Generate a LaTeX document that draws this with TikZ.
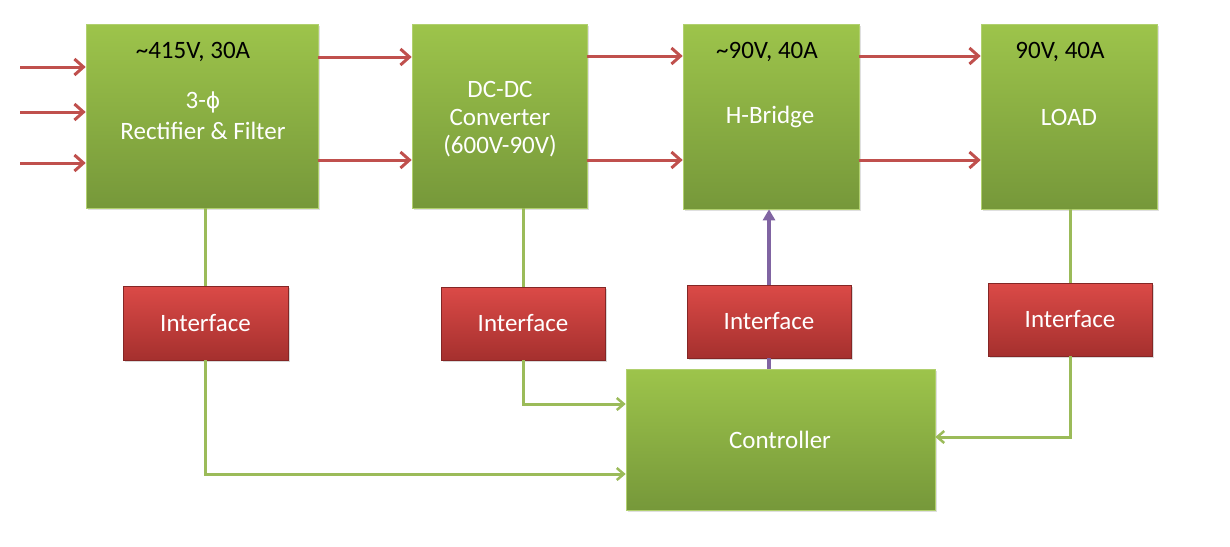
\documentclass[tikz,border=0pt]{standalone}
\usepackage{fontspec}
\setmainfont{Carlito}
\newfontfamily\phifont{DejaVu Sans}
\usetikzlibrary{arrows.meta,shadows}
\definecolor{gtop}{HTML}{9DC44B}
\definecolor{gbot}{HTML}{76983A}
\definecolor{rtop}{HTML}{DB4A47}
\definecolor{rbot}{HTML}{A5302E}
\definecolor{redline}{HTML}{C0504D}
\definecolor{greenline}{HTML}{9BBB59}
\definecolor{purpleline}{HTML}{8064A2}
\tikzset{
  gbox/.style={draw=gtop!80!white, line width=0.6pt, top color=gtop, bottom color=gbot, inner sep=0pt,
    drop shadow={opacity=0.25, shadow xshift=2pt, shadow yshift=-2pt}},
  rbox/.style={draw=rbot!80!black, line width=0.6pt, top color=rtop, bottom color=rbot, inner sep=0pt,
    text=white, font=\fontsize{25}{29}\selectfont,
    drop shadow={opacity=0.3, shadow xshift=2pt, shadow yshift=-2pt}},
  wtxt/.style={text=white, font=\fontsize{25}{29}\selectfont, inner sep=0pt},
  btxt/.style={text=black, font=\fontsize{25}{29}\selectfont, inner sep=0pt},
  rarrow/.style={draw=redline, line width=3pt, -{Straight Barb[length=9pt, width=16pt, line width=3pt]}},
  gline/.style={draw=greenline, line width=3pt},
  garrow/.style={draw=greenline, line width=3pt, -{Straight Barb[length=7pt, width=12pt, line width=2.5pt]}},
  parrow/.style={draw=purpleline, line width=3.5pt, -{Triangle[length=11pt, width=12pt]}},
}
\begin{document}
\begin{tikzpicture}[x=1pt,y=-1pt]
\useasboundingbox (0,0) rectangle (1230,546);
% main boxes
\node[gbox, minimum width=232pt, minimum height=184pt] (rect) at (202,116) {};
\node[gbox, minimum width=175pt, minimum height=184pt] (dcdc) at (499.5,116) {};
\node[gbox, minimum width=176pt, minimum height=185pt] (hb) at (771,116.5) {};
\node[gbox, minimum width=176pt, minimum height=185pt] (load) at (1069,116.5) {};
% interfaces
\node[rbox, minimum width=165pt, minimum height=74pt] (if1) at (205.5,323) {Interface};
\node[rbox, minimum width=164pt, minimum height=73pt] (if2) at (523,323.5) {Interface};
\node[rbox, minimum width=164pt, minimum height=73pt] (if3) at (769,321.5) {Interface};
\node[rbox, minimum width=164pt, minimum height=73pt] (if4) at (1070,319.5) {Interface};
% controller
\node[gbox, minimum width=309pt, minimum height=141pt] (ctrl) at (780.5,439.5) {};
% texts
\node[btxt] (t1) at (193,52) {\textasciitilde415V, 30A};
\node[wtxt] (t2) at (203,102) {3-{\phifont\fontsize{22}{26}\selectfont ϕ}};
\node[wtxt] (t3) at (203,131) {Rectifier \& Filter};
\node[wtxt] (t4) at (500,89) {DC-DC};
\node[wtxt] (t5) at (500,117) {Converter};
\node[wtxt] (t6) at (500,146) {(600V-90V)};
\node[btxt] (t7) at (767,52) {\textasciitilde90V, 40A};
\node[wtxt] (t8) at (770,117) {H-Bridge};
\node[btxt] (t9) at (1060,52) {90V, 40A};
\node[wtxt] (t10) at (1069,117) {LOAD};
\node[wtxt] (t11) at (780,440) {Controller};
% input arrows
\coordinate (in1) at (20,67);
\coordinate (in2) at (20,112);
\coordinate (in3) at (20,163);
\draw[rarrow] (in1) -- (in1 -| rect.west);
\draw[rarrow] (in2) -- (in2 -| rect.west);
\draw[rarrow] (in3) -- (in3 -| rect.west);
% power arrows
\draw[rarrow] (rect.east |- 0,57) -- (dcdc.west |- 0,57);
\draw[rarrow] (rect.east |- 0,160) -- (dcdc.west |- 0,160);
\draw[rarrow] (dcdc.east |- 0,56) -- (hb.west |- 0,56);
\draw[rarrow] (dcdc.east |- 0,160) -- (hb.west |- 0,160);
\draw[rarrow] (hb.east |- 0,56) -- (load.west |- 0,56);
\draw[rarrow] (hb.east |- 0,160) -- (load.west |- 0,160);
% sensing lines
\draw[gline] (rect.south -| if1.north) -- (if1.north);
\draw[garrow] (if1.south) -- (if1.south |- 0,474) -- (ctrl.west |- 0,474);
\draw[gline] (dcdc.south -| if2.north) -- (if2.north);
\draw[garrow] (if2.south) -- (if2.south |- 0,404) -- (ctrl.west |- 0,404);
\draw[gline] (load.south -| if4.north) -- (if4.north);
\draw[garrow] (if4.south) -- (if4.south |- 0,437) -- (ctrl.east |- 0,437);
% control path
\draw[draw=purpleline, line width=3.5pt] (ctrl.north -| if3.south) -- (if3.south);
\draw[parrow] (if3.north) -- (hb.south -| if3.north);
\end{tikzpicture}
\end{document}
